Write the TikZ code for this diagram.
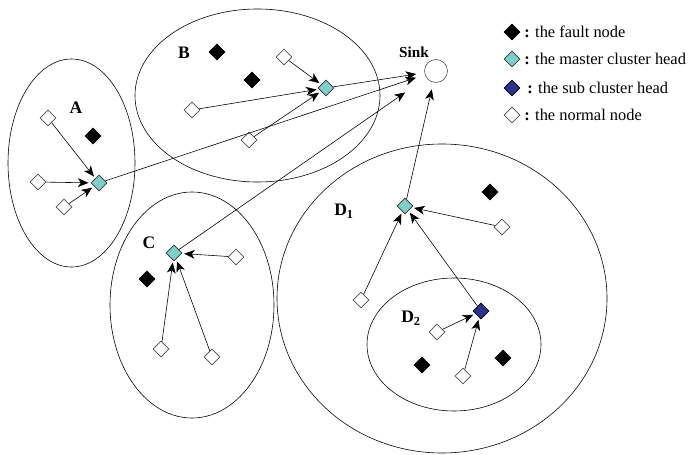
\documentclass[tikz,border=0pt]{standalone}
\usepackage{fontspec}
\setmainfont{Liberation Serif}
\usetikzlibrary{arrows.meta,shapes.geometric}
\definecolor{headcol}{RGB}{128,206,200}
\definecolor{subcol}{RGB}{46,49,140}

\begin{document}
\begin{tikzpicture}[x=0.03cm, y=-0.03cm, line width=0.5pt,
  nd/.style={diamond, draw, inner sep=0pt, minimum size=0.48cm},
  normalnode/.style={nd, draw=black!70, fill=white},
  faultnode/.style={nd, fill=black},
  masterhead/.style={nd, draw=black!80, fill=headcol},
  subhead/.style={nd, fill=subcol},
  lbl/.style={font=\bfseries\fontsize{15}{17}\selectfont},
  legtext/.style={anchor=west, inner sep=0pt, font=\fontsize{14}{16}\selectfont},
  arr/.style={-{Stealth[length=9pt,width=7.5pt,inset=2.5pt]}, shorten >=2pt}]
  \useasboundingbox (0,0) rectangle (697,455);

  \draw (71.5,163) ellipse [x radius=63.5, y radius=104];
  \draw (257.5,95.5) ellipse [x radius=122.5, y radius=86.5];
  \draw (192,305) ellipse [x radius=82, y radius=113];
  \draw (442,298.5) ellipse [x radius=165, y radius=154.5];
  \draw (454,344.5) ellipse [x radius=87, y radius=66.5];

  \node[circle, draw=black!70, inner sep=0pt, minimum size=0.69cm] (sink) at (436,71) {};
  \node[lbl, font=\bfseries\fontsize{13}{15}\selectfont] (sinklbl) at (414,52) {Sink};

  \node[lbl] (la) at (76,108) {A};
  \node[normalnode] (a1) at (48,118) {};
  \node[faultnode] (a2) at (93,136) {};
  \node[normalnode] (a3) at (38,182) {};
  \node[masterhead] (ah) at (99,183) {};
  \node[normalnode] (a4) at (64,207) {};

  \node[lbl] (lb) at (184,53) {B};
  \node[faultnode] (b1) at (217,52) {};
  \node[faultnode] (b2) at (252,80) {};
  \node[normalnode] (b3) at (284,57) {};
  \node[masterhead] (bh) at (326,88) {};
  \node[normalnode] (b4) at (192,110) {};
  \node[normalnode] (b5) at (249,140) {};

  \node[lbl] (lc) at (149,243) {C};
  \node[masterhead] (ch) at (174,253) {};
  \node[normalnode] (c1) at (236,257) {};
  \node[faultnode] (c2) at (147,279) {};
  \node[normalnode] (c3) at (161,349) {};
  \node[normalnode] (c4) at (212,357) {};

  \node[lbl] (ld1) at (344,211) {D\textsubscript{1}};
  \node[masterhead] (dh) at (405,206) {};
  \node[faultnode] (d1) at (490,192) {};
  \node[normalnode] (d2) at (502,227) {};
  \node[normalnode] (d3) at (361,300) {};
  \node[subhead] (eh) at (481,311) {};
  \node[lbl] (ld2) at (411,318) {D\textsubscript{2}};
  \node[normalnode] (e1) at (437,332) {};
  \node[faultnode] (e2) at (422,365) {};
  \node[faultnode] (e3) at (503,358) {};
  \node[normalnode] (e4) at (463,376) {};

  \node[faultnode] (kf) at (512,32) {};
  \node[legtext] (kft) at (524,32) {\textbf{:} the fault node};
  \node[masterhead] (km) at (512,59) {};
  \node[legtext] (kmt) at (524,59) {\textbf{:} the master cluster head};
  \node[subhead] (ks) at (512,88) {};
  \node[legtext] (kst) at (527,88) {\textbf{:} the sub cluster head};
  \node[normalnode] (kn) at (512,115) {};
  \node[legtext] (knt) at (524,115) {\textbf{:} the normal node};

	\draw[arr] (a1) to (ah);
	\draw[arr] (a3) to (ah);
	\draw[arr] (a4) to (ah);
	\draw[arr, shorten >=8pt] (ah) to (sink);
	\draw[arr] (b3) to (bh);
	\draw[arr] (b4) to (bh);
	\draw[arr] (b5) to (bh);
	\draw[arr, shorten >=7pt] (bh) to (sink);
	\draw[arr] (c1) to (ch);
	\draw[arr] (c3) to (ch);
	\draw[arr] (c4) to (ch);
	\draw[arr, shorten >=22pt] (ch) to (sink);
	\draw[arr] (d2) to (dh);
	\draw[arr] (d3) to (dh);
	\draw[arr] (eh) to (dh);
	\draw[arr, shorten >=6pt] (dh) to (sink);
	\draw[arr] (e1) to (eh);
	\draw[arr] (e4) to (eh);

\end{tikzpicture}
\end{document}
